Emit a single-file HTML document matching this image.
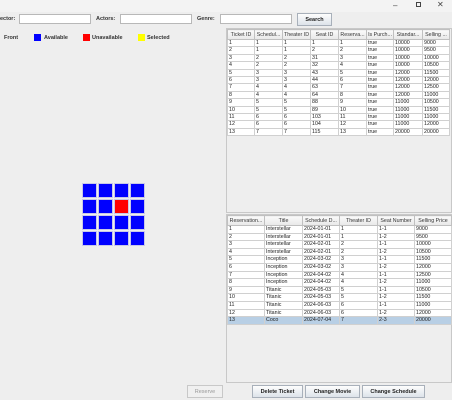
<!DOCTYPE html>
<html><head><meta charset="utf-8"><style>
*{box-sizing:border-box;margin:0;padding:0}
body{width:452px;height:400px;overflow:hidden;background:#eeeeee;font-family:"Liberation Sans",sans-serif;font-size:5.5px;color:#222;position:relative}
.a{position:absolute}
.lbl{font-weight:bold;color:#333;font-size:5.5px}
.field{background:#fff;border:1px solid #b8b8b8}
.btn{background:linear-gradient(#fdfdfd,#dde3ea);border:1px solid #a8b0ba;text-align:center;font-weight:bold;line-height:12px;font-size:5.5px;color:#222}
table{border-collapse:collapse;table-layout:fixed;position:absolute;background:#fff}
td,th{border:1px solid #d0d0d0;white-space:nowrap;overflow:hidden;padding:0 1px;font-weight:normal;text-align:left;font-size:5.3px}
th{background:linear-gradient(#fafafa,#e8e8e8);text-align:center;color:#333;border-color:#c0c0c0}
.sel td{background:#b8cfe5}
.seat{position:absolute;width:15px;height:15px;border:1px solid #c8c8e8}
</style></head><body>
<div class="a" style="left:0;top:0;width:452px;height:12px;background:#f3f3f3"></div>
<div class="a" style="left:393px;top:1px;font-size:8px;color:#444">–</div>
<div class="a" style="left:416px;top:2px;width:5px;height:5px;border:1px solid #444"></div>
<div class="a" style="left:437px;top:0px;font-size:8px;color:#444">✕</div>

<div class="a lbl" style="left:0;top:16px">ector:</div>
<div class="a field" style="left:19px;top:14px;width:72px;height:10px"></div>
<div class="a lbl" style="left:96px;top:16px">Actors:</div>
<div class="a field" style="left:120px;top:14px;width:72px;height:10px"></div>
<div class="a lbl" style="left:197px;top:16px">Genre:</div>
<div class="a field" style="left:220px;top:14px;width:72px;height:10px"></div>
<div class="a btn" style="left:297px;top:13px;width:35px;height:13px">Search</div>

<div class="a lbl" style="left:4px;top:35px">Front</div>
<div class="a" style="left:34px;top:34px;width:7px;height:7px;background:#0000ff"></div>
<div class="a lbl" style="left:44px;top:35px">Available</div>
<div class="a" style="left:83px;top:34px;width:7px;height:7px;background:#ff0000"></div>
<div class="a lbl" style="left:92px;top:35px">Unavailable</div>
<div class="a" style="left:138px;top:34px;width:7px;height:7px;background:#ffff00"></div>
<div class="a lbl" style="left:147px;top:35px">Selected</div>

<div id="seats"></div>

<div class="a" style="left:226px;top:28px;width:226px;height:185px;border:1px solid #c8c8c8"></div>
<div class="a" style="left:226px;top:214px;width:226px;height:169px;border:1px solid #c8c8c8"></div>
<div id="t1"></div><div id="t2"></div>

<div class="a btn" style="left:187px;top:385px;width:36px;height:13px;color:#999;background:#f0f0f0;border-color:#c8c8c8;font-weight:normal">Reserve</div>
<div class="a btn" style="left:252px;top:385px;width:51px;height:13px">Delete Ticket</div>
<div class="a btn" style="left:305px;top:385px;width:55px;height:13px">Change Movie</div>
<div class="a btn" style="left:362px;top:385px;width:63px;height:13px">Change Schedule</div>

<script>
const seatStatus=[[0,0,0,0],[0,0,1,0],[0,0,0,0],[0,0,0,0]];
const t1Headers=["Ticket ID","Schedul...","Theater ID","Seat ID","Reserva...","Is Purch...","Standar...","Selling ..."];
const t1Widths=[27,28,28,28,28,27,29,27];
const t1Rows=[[1,1,1,1,1,"true",10000,9000],[2,1,1,2,2,"true",10000,9500],[3,2,2,31,3,"true",10000,10000],[4,2,2,32,4,"true",10000,10500],[5,3,3,43,5,"true",12000,11500],[6,3,3,44,6,"true",12000,12000],[7,4,4,63,7,"true",12000,12500],[8,4,4,64,8,"true",12000,11000],[9,5,5,88,9,"true",11000,10500],[10,5,5,89,10,"true",11000,11500],[11,6,6,103,11,"true",11000,11000],[12,6,6,104,12,"true",11000,12000],[13,7,7,115,13,"true",20000,20000]];
const t2Headers=["Reservation...","Title","Schedule D...","Theater ID","Seat Number","Selling Price"];
const t2Widths=[37,38,37,38,37,37];
const t2Rows=[[1,"Interstellar","2024-01-01",1,"1-1",9000],[2,"Interstellar","2024-01-01",1,"1-2",9500],[3,"Interstellar","2024-02-01",2,"1-1",10000],[4,"Interstellar","2024-02-01",2,"1-2",10500],[5,"Inception","2024-03-02",3,"1-1",11500],[6,"Inception","2024-03-02",3,"1-2",12000],[7,"Inception","2024-04-02",4,"1-1",12500],[8,"Inception","2024-04-02",4,"1-2",11000],[9,"Titanic","2024-05-03",5,"1-1",10500],[10,"Titanic","2024-05-03",5,"1-2",11500],[11,"Titanic","2024-06-03",6,"1-1",11000],[12,"Titanic","2024-06-03",6,"1-2",12000],[13,"Coco","2024-07-04",7,"2-3",20000]];
const selectedRow=12;

const sg=document.getElementById('seats');
seatStatus.forEach((row,r)=>row.forEach((s,c)=>{
  const d=document.createElement('div');d.className='seat';
  
  
  d.style.left=(82+c*16)+'px';d.style.top=(183+r*16)+'px';
  d.style.background=s===1?'#ff0000':(s===2?'#ffff00':'#0000ff');
  sg.appendChild(d);
}));

function build(id,headers,widths,rows,left,top,hh,rh,sel,name){
  const t=document.createElement('table');
  
  
  t.style.left=left+'px';t.style.top=top+'px';
  let h='<colgroup>'+widths.map(w=>'<col style="width:'+w+'px">').join('')+'</colgroup>';
  h+='<tr style="height:'+hh+'px">'+headers.map(x=>'<th>'+x+'</th>').join('')+'</tr>';
  rows.forEach((r,i)=>{h+='<tr style="height:'+rh+'px"'+(i===sel?' class="sel"':'')+'>'+r.map(v=>'<td style="line-height:'+(rh-1)+'px">'+v+'</td>').join('')+'</tr>';});
  t.innerHTML=h;
  t.style.width=widths.reduce((a,b)=>a+b,0)+'px';
  document.getElementById(id).appendChild(t);
}
build('t1',t1Headers,t1Widths,t1Rows,227,29,10,7.4,-1,'tickets-table');
build('t2',t2Headers,t2Widths,t2Rows,227,215,10,7.6,selectedRow,'reservations-table');
</script>
</body></html>
